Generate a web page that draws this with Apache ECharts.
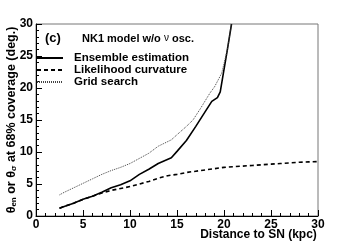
<!DOCTYPE html>
<html><head><meta charset="utf-8">
<script src="https://cdn.jsdelivr.net/npm/echarts@6/dist/echarts.min.js"></script>
<style>html,body{margin:0;padding:0;background:#fff}#c{width:354px;height:241px}</style>
</head><body><div id="c"></div>
<script>
const seriesNames = ['Ensemble estimation', 'Likelihood curvature', 'Grid search'];
const ensemble = [[2.5,1.2],[3,1.5],[4,2.0],[5,2.6],[6,3.1],[7,3.7],[8,4.4],[9,4.9],[10,5.5],[11,6.5],[12,7.3],[13,8.2],[14.4,9.1],[15,10.1],[16,11.8],[17,14.0],[18,16.3],[18.7,17.9],[19.3,18.5],[19.6,19.4],[19.9,22],[20.35,25.9],[20.8,30]];
const likelihood = [[2.5,1.2],[3,1.5],[4,2.0],[5,2.6],[6,3.1],[7,3.6],[8,4.0],[9,4.3],[10,4.6],[11,5.0],[12,5.4],[13,5.9],[14,6.3],[15,6.5],[16,6.8],[17,7.0],[18,7.2],[19,7.4],[20,7.6],[21,7.7],[22,7.8],[23,7.9],[24,8.0],[25,8.1],[26,8.2],[27,8.3],[28,8.4],[29,8.45],[30,8.5]];
const gridSearch = [[2.5,3.3],[3,3.7],[4,4.4],[5,5.1],[6,5.8],[7,6.5],[8,7.1],[9,7.6],[10,8.2],[11,9.0],[12,9.8],[13,10.9],[14.4,11.9],[15,12.7],[16,14.0],[16.7,15.0],[17.5,16.8],[18.5,19.2],[19.0,20.2],[19.75,22.3],[20.35,25.9],[20.8,30]];
const xTicks = [0,5,10,15,20,25,30];
const yTicks = [0,5,10,15,20,25,30];

const FF = '"Liberation Sans", Arial, sans-serif';
const chart = echarts.init(document.getElementById('c'), null, {renderer:'canvas'});
const axisCommon = {
  axisLine:{show:true, lineStyle:{color:'#000', width:1}},
  axisTick:{show:true, inside:true, length:6, lineStyle:{color:'#000'}},
  minorTick:{show:true, splitNumber:5, length:3, lineStyle:{color:'#000'}},
  splitLine:{show:false},
  axisLabel:{fontFamily:FF, fontWeight:'bold', fontSize:12, color:'#000'}
};
chart.setOption({
  animation:false,
  backgroundColor:'#fff',
  grid:{left:36, top:24, right:36, bottom:25, show:true, borderColor:'#777', borderWidth:1, containLabel:false, outerBoundsMode:'none'},
  title:[
    {text:'(c)', left:40, top:27, textStyle:{fontFamily:FF, fontWeight:'bold', fontSize:13, color:'#000'}},
    {text:'{b|NK1 model w/o }{n|ν}{b| osc.}', left:77, top:28, textStyle:{rich:{
      b:{fontFamily:FF, fontWeight:'bold', fontSize:11, color:'#000'},
      n:{fontFamily:FF, fontWeight:'normal', fontSize:10, color:'#000'}}}}
  ],
  legend:{
    left:31, top:47, orient:'vertical', itemWidth:26, itemHeight:10, itemGap:0,
    data:seriesNames,
    itemStyle:{opacity:0, borderWidth:0},
    textStyle:{fontFamily:FF, fontWeight:'bold', fontSize:11.5, lineHeight:12, color:'#000', padding:[0,0,0,6]}
  },
  xAxis:Object.assign({}, axisCommon, {
    type:'value', min:0, max:30, interval:5,
    name:'Distance to SN (kpc)', nameLocation:'middle', nameGap:13, nameMoveOverlap:false,
    nameTextStyle:{fontFamily:FF, fontWeight:'bold', fontSize:12, color:'#000', verticalAlign:'top', padding:[0,0,0,163]},
    axisLabel:Object.assign({}, axisCommon.axisLabel, {margin:3})
  }),
  yAxis:Object.assign({}, axisCommon, {
    type:'value', min:0, max:30, interval:5,
    name:'{t|θ}{s|en}{t| or θ}{s|σ}{t| at 68% coverage (deg.)}', nameLocation:'middle', nameGap:18, nameRotate:90, nameMoveOverlap:false,
    nameTextStyle:{rich:{
      t:{fontFamily:FF, fontWeight:'bold', fontSize:12.5, color:'#000'},
      s:{fontFamily:FF, fontWeight:'bold', fontSize:8, color:'#000', verticalAlign:'bottom'}}},
    axisLabel:Object.assign({}, axisCommon.axisLabel, {margin:3})
  }),
  series:[
    {name:seriesNames[0], type:'line', data:ensemble, symbol:'none', lineStyle:{color:'#000', width:1.6, type:'solid'}, itemStyle:{color:'#000'}},
    {name:seriesNames[1], type:'line', data:likelihood, symbol:'none', lineStyle:{color:'#000', width:1.6, type:[4,3]}, itemStyle:{color:'#000'}},
    {name:seriesNames[2], type:'line', data:gridSearch, symbol:'none', lineStyle:{color:'#444', width:1, type:[1,1]}, itemStyle:{color:'#444'}}
  ]
});
</script></body></html>
